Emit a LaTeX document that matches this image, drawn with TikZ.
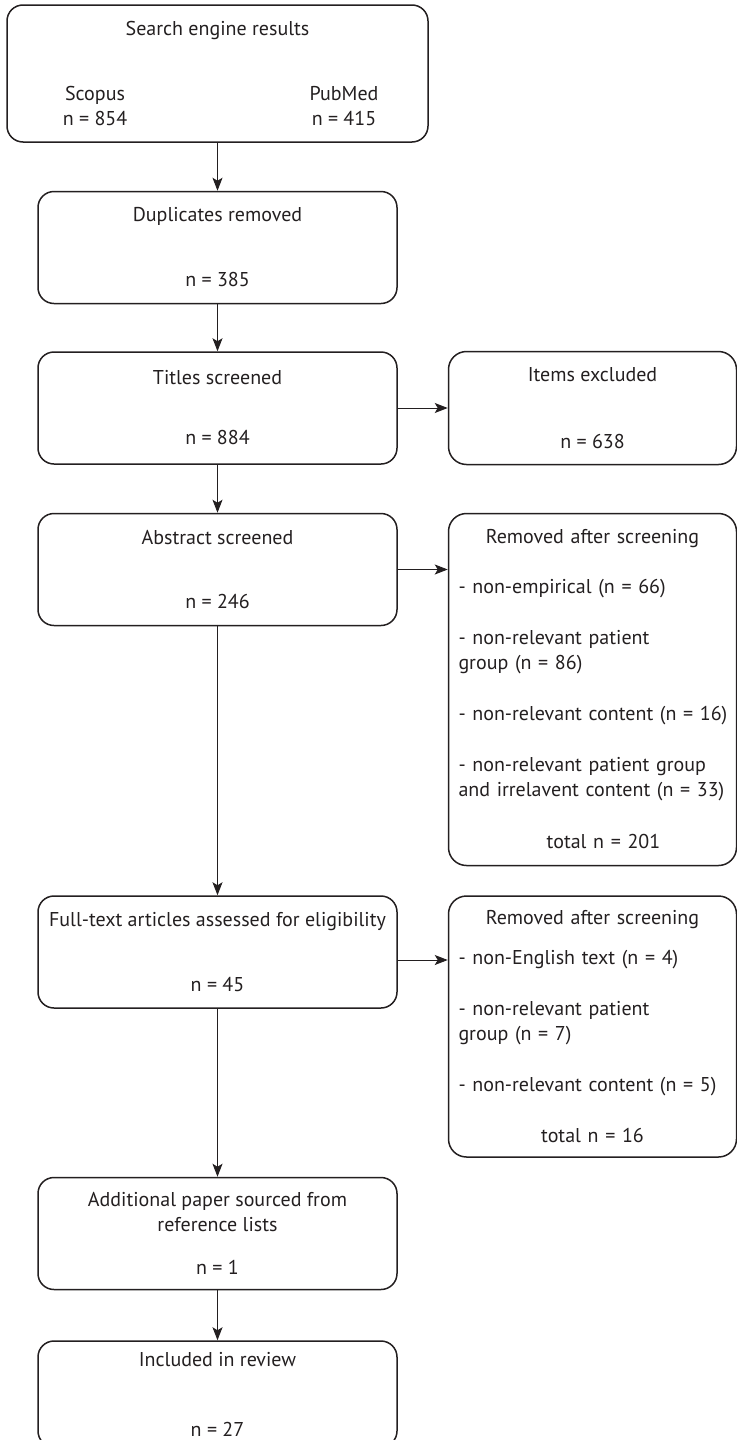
\documentclass[tikz,border=0pt]{standalone}
\usepackage{fontspec}
\setmainfont{PT Sans}
\usetikzlibrary{positioning,calc,arrows.meta}
\definecolor{ink}{HTML}{231F20}
\newcommand\midline[1]{\makebox[\linewidth]{#1}}

\begin{document}
\begin{tikzpicture}[
    font=\fontsize{10}{12.5}\selectfont, color=ink,
    stage/.style={draw, line width=0.75pt, rounded corners=8pt, minimum width=179.5pt,
      minimum height=56pt, align=center, inner sep=0pt},
    sidebox/.style={draw, line width=0.75pt, rounded corners=9pt, text width=134pt,
      inner xsep=5pt, inner ysep=0pt, align=left},
    flow/.style={-{Stealth[length=6.5pt,width=5pt,inset=1.5pt]}, line width=0.5pt}
  ]
  \useasboundingbox (0,0) rectangle (368pt,-720pt);

  % main column
  \node[stage, minimum width=210.5pt, minimum height=68.5pt] (engine) at (108.75pt,-36.75pt) {};
  \node (enginehead) at ($(engine.north) - (0,13pt)$) {Search engine results};
  \node[align=center] (scopus) at ($(engine.north) + (-61.25pt,-51pt)$) {Scopus\\n = 854};
  \node[align=center] (pubmed) at ($(engine.north) + (63.25pt,-51pt)$) {PubMed\\n = 415};

  \node[stage, below=24pt of engine] (dup) {Duplicates removed\\[20pt]n = 385};
  \node[stage, below=23.5pt of dup] (titles) {Titles screened\\[17.5pt]n = 884};
  \node[stage, below=24pt of titles] (abstract) {Abstract screened\\[19.5pt]n = 246};
  \node[stage, below=134.5pt of abstract] (full) {Full-text articles assessed for eligibility\\[20pt]n = 45};
  \node[stage, below=84pt of full] (extra) {Additional paper sourced from\\reference lists\\[9pt]n = 1};
  \node[stage, below=25pt of extra, minimum height=53pt] (review) {Included in review\\[22.5pt]n = 27};

  % side column
  \node[stage, right=25pt of titles, minimum width=144pt, minimum height=56.5pt,
    rounded corners=9pt] (excluded) {Items excluded\\[21pt]n = 638};
  \node[sidebox, below right=0pt and 25pt of abstract.north east, minimum height=176pt] (removedA) {
    \midline{Removed after screening}\\[12.5pt]
    - non-empirical (n = 66)\\[13pt]
    - non-relevant patient\\group (n = 86)\\[13pt]
    \mbox{- non-relevant content (n = 16)}\\[13pt]
    - non-relevant patient group\\\mbox{and irrelavent content (n = 33)}\\[13.5pt]
    \midline{\hspace*{11pt}total n = 201}};
  \node[sidebox, below right=0pt and 25pt of full.north east, minimum height=130.5pt] (removedB) {
    \midline{Removed after screening}\\[7.5pt]
    - non-English text (n = 4)\\[13pt]
    - non-relevant patient\\group (n = 7)\\[13pt]
    \mbox{- non-relevant content (n = 5)}\\[13pt]
    \midline{total n = 16}};

  % connectors
  \draw[flow] (engine) -- (dup);
  \draw[flow] (dup) -- (titles);
  \draw[flow] (titles) -- (abstract);
  \draw[flow] (abstract) -- (full);
  \draw[flow] (full) -- (extra);
  \draw[flow] (extra) -- (review);
  \draw[flow] (titles) -- (excluded);
  \draw[flow] (abstract.east) -- (abstract.east -| removedA.west);
  \draw[flow] ([yshift=-4pt]full.east) -- ([yshift=-4pt]full.east -| removedB.west);
\end{tikzpicture}
\end{document}
